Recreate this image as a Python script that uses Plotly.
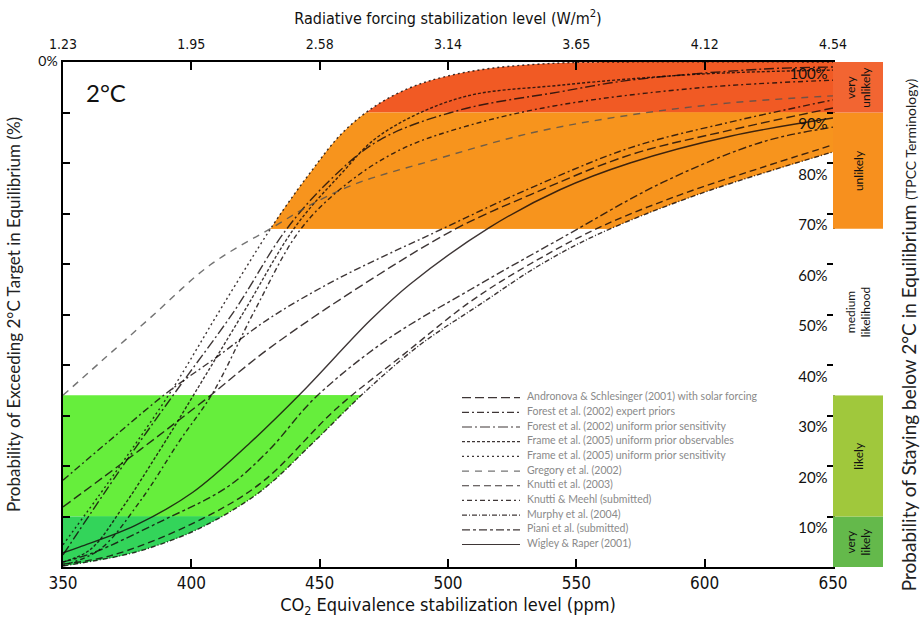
import plotly.graph_objects as go

# ---------------------------------------------------------------- data
STUDIES = [
    "Andronova & Schlesinger (2001) with solar forcing",
    "Forest et al. (2002) expert priors",
    "Forest et al. (2002) uniform prior sensitivity",
    "Frame et al. (2005) uniform prior observables",
    "Frame et al. (2005) uniform prior sensitivity",
    "Gregory et al. (2002)",
    "Knutti et al. (2003)",
    "Knutti & Meehl (submitted)",
    "Murphy et al. (2004)",
    "Piani et al. (submitted)",
    "Wigley & Raper (2001)",
]

# CO2-equivalent stabilization level (ppm) and probability (%) for each study
andronova_ppm = [350, 380.0, 405.3, 430.6, 469.6, 503.5, 532.0, 570.9, 609.9, 650]
andronova_pct = [11.9, 23.2, 33.1, 43.4, 56.8, 67.1, 73.7, 81.6, 86.5, 90.9]

forest_exp_ppm = [350, 368.3, 390.5, 410.0, 430.6, 456.8, 494.2, 532.0, 570.9, 609.9, 650]
forest_exp_pct = [17.2, 25.1, 34.5, 41.6, 49.3, 57.0, 66.1, 75.0, 83.0, 88.1, 92.5]

forest_uni_ppm = [350, 372.2, 393.6, 417.0, 436.5, 454.0, 473.5, 504.7, 543.6, 570.9, 622.7, 650]
forest_uni_pct = [2.4, 19.2, 34.5, 50.9, 66.5, 76.6, 84.6, 90.5, 94.1, 96.4, 98.6, 99.0]

frame_obs_ppm = [350, 360.5, 373.4, 387.8, 401.4, 420.9, 440.4, 457.9, 473.5, 504.7, 543.6, 598.2, 650]
frame_obs_pct = [1.0, 3.4, 11.9, 23.2, 34.5, 50.9, 67.3, 77.6, 85.5, 92.9, 95.4, 97.6, 98.4]

frame_sens_ppm = [350, 368.3, 391.7, 411.2, 431.8, 446.2, 459.1, 472.3, 485.2, 498.0, 517.5, 543.6, 567.0, 650]
frame_sens_pct = [4.4, 17.2, 34.5, 50.9, 67.7, 78.0, 86.1, 91.5, 94.9, 97.0, 98.8, 99.8, 100.0, 100.0]

gregory_ppm = [350, 364.4, 383.9, 407.3, 431.8, 450.1, 465.7, 491.8, 532.0, 570.9, 609.9, 650]
gregory_pct = [34.0, 40.5, 49.3, 59.8, 67.3, 72.7, 76.2, 80.2, 85.9, 89.5, 91.9, 93.3]

knutti_ppm = [350, 368.3, 400.0, 426.8, 456.8, 482.5, 508.6, 532.0, 559.2, 590.4, 621.6, 650]
knutti_pct = [0.6, 2.2, 8.5, 16.5, 31.5, 42.0, 52.5, 60.0, 67.3, 73.7, 79.0, 83.6]

knutti_meehl_ppm = [350, 364.4, 380.0, 395.6, 408.4, 424.8, 442.3, 459.9, 481.3, 508.6, 543.6, 598.2, 650]
knutti_meehl_pct = [0.3, 3.5, 13.0, 25.1, 34.5, 50.9, 66.7, 75.6, 82.6, 87.5, 91.5, 94.9, 96.4]

murphy_ppm = [350, 372.2, 383.9, 403.4, 426.8, 446.2, 467.7, 489.1, 512.5, 535.8, 558.1, 597.0, 650]
murphy_pct = [0.2, 2.2, 3.8, 7.7, 14.9, 24.0, 34.7, 44.0, 52.0, 59.8, 65.8, 73.7, 82.2]

piani_ppm = [350, 361.7, 388.0, 413.9, 430.0, 448.2, 476.2, 508.6, 544.8, 583.8, 622.7, 650]
piani_pct = [1.0, 2.8, 9.0, 15.8, 23.0, 33.5, 45.0, 54.9, 65.3, 76.2, 84.2, 87.1]

wigley_ppm = [350, 356.6, 378.0, 400.6, 422.9, 443.1, 469.6, 485.2, 516.4, 543.6, 570.9, 609.9, 650]
wigley_pct = [2.8, 4.0, 8.2, 14.8, 24.6, 34.6, 48.8, 56.0, 67.3, 74.7, 80.0, 85.3, 88.9]

# axis ticks
ppm_ticks = [350, 400, 450, 500, 550, 600, 650]
forcing_labels = ["1.23", "1.95", "2.58", "3.14", "3.65", "4.12", "4.54"]
pct_ticks = [0, 10, 20, 30, 40, 50, 60, 70, 80, 90, 100]
left_label_at = [100]
left_labels = ["0%"]
right_ticks = [10, 20, 30, 40, 50, 60, 70, 80, 90, 100]
right_labels = ["10%", "20%", "30%", "40%", "50%", "60%", "70%", "80%", "90%", "100%"]

# likelihood classes (IPCC terminology)
class_names = ["very<br>likely", "likely", "medium<br>likelihood", "unlikely", "very<br>unlikely"]
class_lo = [0, 10, 34, 67, 90]
class_hi = [10, 34, 67, 90, 100]

# ---------------------------------------------------------------- styles
NARROW = "DejaVu Sans Condensed, Liberation Sans Narrow, Roboto, sans-serif"
ROUND = "Lato, Noto Sans, sans-serif"
CLASS_COLORS = ["#64B94B", "#A0C83C", "#FFFFFF", "#F7901E", "#F26532"]
FILL_COLORS = {90: "#F15A24", 67: "#F7941D", 10: "#66EE3C", 0: "#33D45A"}
INK = "rgba(20,10,10,0.82)"
NO_MARK = dict(size=7, color="rgba(0,0,0,0)")  # invisible anchor that pads the label

curves = [
    (andronova_ppm, andronova_pct, "9px,4px", INK),
    (forest_exp_ppm, forest_exp_pct, "7px,3px,2px,3px", INK),
    (forest_uni_ppm, forest_uni_pct, "10px,3px,2px,3px", INK),
    (frame_obs_ppm, frame_obs_pct, "3px,2px", INK),
    (frame_sens_ppm, frame_sens_pct, "2px,3px", INK),
    (gregory_ppm, gregory_pct, "7px,6px", "rgba(80,80,80,0.8)"),
    (knutti_ppm, knutti_pct, "7px,4px", INK),
    (knutti_meehl_ppm, knutti_meehl_pct, "2px,3px,5px,3px", INK),
    (murphy_ppm, murphy_pct, "5px,2px,1px,2px", INK),
    (piani_ppm, piani_pct, "8px,3px,3px,3px", INK),
    (wigley_ppm, wigley_pct, "solid", INK),
]

fig = go.Figure()

# ---------------------------------------------------------------- envelope fills
# each likelihood band gets its own y axis whose range is the band itself,
# so the spread of the studies is clipped to that band
band_axes = [("y", 90, 100), ("y2", 67, 90), ("y3", 10, 34), ("y4", 0, 10)]
for yid, lo, hi in band_axes:
    for upper_ppm, upper_pct in [(gregory_ppm, gregory_pct), (frame_sens_ppm, frame_sens_pct)]:
        fig.add_trace(go.Scatter(
            x=murphy_ppm, y=murphy_pct, xaxis="x", yaxis=yid, mode="lines",
            line=dict(width=0, shape="spline"), hoverinfo="skip", showlegend=False))
        fig.add_trace(go.Scatter(
            x=upper_ppm, y=upper_pct, xaxis="x", yaxis=yid, mode="lines",
            line=dict(width=0, shape="spline"), fill="tonexty",
            fillcolor=FILL_COLORS[lo], hoverinfo="skip", showlegend=False))

# ---------------------------------------------------------------- study curves
for name, (px, py, dash, col) in zip(STUDIES, curves):
    fig.add_trace(go.Scatter(
        x=px, y=py, xaxis="x", yaxis="y5", mode="lines", name=name,
        line=dict(color=col, width=1.4, dash=dash, shape="spline"),
        showlegend=False))

# empty trace that attaches the forcing (top) axis
fig.add_trace(go.Scatter(x=ppm_ticks, y=[None] * len(ppm_ticks), xaxis="x3", yaxis="y5",
                         mode="lines", hoverinfo="skip", showlegend=False))
# exceedance label at the top of the left axis
fig.add_trace(go.Scatter(
    x=[350] * len(left_labels), y=left_label_at, xaxis="x", yaxis="y5",
    mode="markers+text", marker=NO_MARK, text=left_labels, textposition="middle left",
    cliponaxis=False, textfont=dict(family=ROUND, size=14, color="#111"),
    hoverinfo="skip", showlegend=False))
# staying-below percentages, hung just under each right-hand tick
fig.add_trace(go.Scatter(
    x=[650] * len(right_ticks), y=right_ticks, xaxis="x", yaxis="y6",
    mode="markers+text", marker=NO_MARK, text=right_labels, textposition="bottom left",
    cliponaxis=False, textfont=dict(family=ROUND, size=15, color="#111"),
    hoverinfo="skip", showlegend=False))

# ---------------------------------------------------------------- likelihood column
fig.add_trace(go.Bar(
    x=[0] * len(class_names), y=[h - l for l, h in zip(class_lo, class_hi)], base=class_lo,
    xaxis="x2", yaxis="y7", width=1, marker=dict(color=CLASS_COLORS, line=dict(width=0)),
    text=class_names, textposition="inside", insidetextanchor="middle",
    textangle=-90, constraintext="none",
    textfont=dict(family=ROUND, size=12, color="#111"),
    hoverinfo="skip", showlegend=False))

# ---------------------------------------------------------------- key
for i, (name, (px, py, dash, col)) in enumerate(zip(STUDIES, curves)):
    fig.add_trace(go.Scatter(
        x=[0, 1], y=[i, i], xaxis="x4", yaxis="y8", mode="lines",
        line=dict(color=col, width=1.2, dash=dash), hoverinfo="skip", showlegend=False))
fig.add_trace(go.Scatter(
    x=[1.12] * len(STUDIES), y=list(range(len(STUDIES))), xaxis="x4", yaxis="y8",
    mode="text", text=STUDIES, textposition="middle right", cliponaxis=False,
    textfont=dict(family=ROUND, size=10.5, color="#8a8a8a"), hoverinfo="skip", showlegend=False))

# ---------------------------------------------------------------- layout
MAIN_RIGHT = 770 / 820
hidden = dict(visible=False, anchor="x")
fig.update_layout(
    width=920, height=625,
    margin=dict(l=63, r=37, t=62, b=58),
    paper_bgcolor="white", plot_bgcolor="rgba(0,0,0,0)",
    barmode="overlay", showlegend=False,
    xaxis=dict(
        domain=[0, MAIN_RIGHT], range=[350, 650], anchor="y5", side="bottom",
        tickvals=ppm_ticks, ticks="inside", ticklen=8, tickwidth=1.5, tickcolor="black",
        showline=True, linecolor="black", linewidth=2, showgrid=False, zeroline=False,
        tickfont=dict(family=NARROW, size=17, color="#111"),
        title=dict(text="CO<sub>2</sub> Equivalence stabilization level (ppm)",
                   font=dict(family=NARROW, size=18, color="#111"), standoff=6),
    ),
    xaxis3=dict(
        overlaying="x", range=[350, 650], anchor="y5", side="top",
        tickvals=ppm_ticks, ticktext=forcing_labels, ticks="inside", ticklen=8,
        tickwidth=1.5, tickcolor="black", ticklabelstandoff=5,
        showline=True, linecolor="black", linewidth=2, showgrid=False, zeroline=False,
        tickfont=dict(family=NARROW, size=14, color="#111"),
        title=dict(text="Radiative forcing stabilization level (W/m<sup>2</sup>)",
                   font=dict(family=NARROW, size=16, color="#111"), standoff=8),
    ),
    yaxis=dict(domain=[0.90, 1.00], range=[90, 100], **hidden),
    yaxis2=dict(domain=[0.67, 0.90], range=[67, 90], **hidden),
    yaxis3=dict(domain=[0.10, 0.34], range=[10, 34], **hidden),
    yaxis4=dict(domain=[0.00, 0.10], range=[0, 10], **hidden),
    yaxis5=dict(
        domain=[0, 1], range=[0, 100], anchor="x", side="left",
        tickvals=pct_ticks, showticklabels=False,
        ticks="inside", ticklen=7, tickwidth=1.5, tickcolor="black",
        showline=True, linecolor="black", linewidth=2, showgrid=False, zeroline=False,
        title=dict(text="Probability of Exceeding 2°C Target in Equilibrium (%)",
                   font=dict(family=ROUND, size=17, color="#222"), standoff=36),
    ),
    yaxis6=dict(
        overlaying="y5", range=[0, 100], anchor="x", side="right",
        tickvals=right_ticks, ticks="inside", ticklen=6, tickwidth=1.5, tickcolor="black",
        showticklabels=False,
        showline=True, linecolor="black", linewidth=2, showgrid=False, zeroline=False,
    ),
    xaxis2=dict(domain=[MAIN_RIGHT, 1], range=[-0.5, 0.5], anchor="y7", visible=False),
    yaxis7=dict(domain=[0, 1], range=[0, 100], anchor="x2", visible=False),
    xaxis4=dict(domain=[(462 - 63) / 820, (770 - 63) / 820], range=[0, 5.31],
                anchor="y8", visible=False),
    yaxis8=dict(domain=[0.03, 0.35], range=[10.5, -0.5], anchor="x4", visible=False),
    annotations=[
        dict(text="2°C", xref="paper", yref="paper", x=0.026, y=0.94,
             xanchor="left", yanchor="middle", showarrow=False, bgcolor="white",
             font=dict(family=ROUND, size=24, color="#111")),
        dict(text="Probability of Staying below 2°C in Equilibrium "
                  "<span style='font-size:14px'>(TPCC Terminology)</span>",
             xref="paper", yref="paper", x=1.0305, y=0.459, textangle=-90,
             xanchor="center", yanchor="middle", showarrow=False,
             font=dict(family=ROUND, size=19, color="#222")),
    ],
)

fig.write_html("out.html")
